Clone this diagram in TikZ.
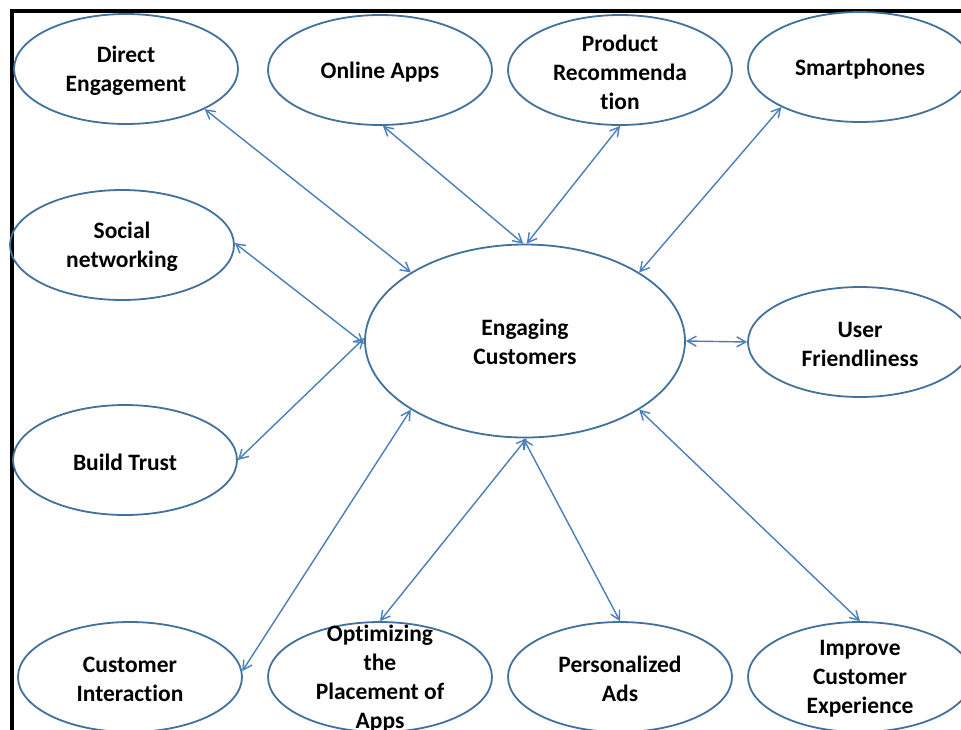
\documentclass[tikz,border=0pt]{standalone}
\usepackage{fontspec}
\setmainfont{Carlito}[Ligatures=CommonOff]
\usetikzlibrary{shapes.geometric,arrows.meta}
\definecolor{ellblue}{RGB}{65,113,156}
\definecolor{arrblue}{RGB}{74,126,187}
\begin{document}
\begin{tikzpicture}[x=1pt,y=-1pt,
  ell/.style={ellipse,draw=ellblue,line width=1.8pt,minimum width=224pt,minimum height=110pt,inner sep=0pt},
  lbl/.style={font=\bfseries\fontsize{23.5}{29}\selectfont,align=center,text=black,inner sep=0pt,yshift=-2pt},
  conn/.style={draw=arrblue,line width=1.4pt,{Straight Barb[length=9pt,width=10pt]}-{Straight Barb[length=9pt,width=10pt]}}]
\useasboundingbox (0,0) rectangle (961,729);
\clip (0,0) rectangle (961,729);
\fill[white] (0,0) rectangle (961,729);
\draw[black,line width=4pt] (12,740) -- (12,11) -- (970,11);
\node[ell,label={[lbl]center:{Direct\\Engagement}}] (de) at (126,69) {};
\node[ell,label={[lbl]center:{Online Apps}}] (oa) at (380,70) {};
\node[ell,label={[lbl]center:{Product\\Recommenda\\tion}}] (pr) at (620,70) {};
\node[ell,label={[lbl]center:{Smartphones}}] (sp) at (860,67) {};
\node[ell,label={[lbl]center:{Social\\networking}}] (sn) at (122,245) {};
\node[ell,minimum width=320pt,minimum height=193pt,label={[lbl,yshift=1pt]center:{Engaging\\Customers}}] (ec) at (525,341) {};
\node[ell,label={[lbl]center:{User\\Friendliness}}] (uf) at (860,342) {};
\node[ell,label={[lbl]center:{Build Trust}}] (bt) at (125,460) {};
\node[ell,label={[lbl]center:{Customer\\Interaction}}] (ci) at (130,677) {};
\node[ell,label={[lbl]center:{Optimizing\\the\\Placement of\\Apps}}] (op) at (380,677) {};
\node[ell,label={[lbl]center:{Personalized\\Ads}}] (pa) at (620,677) {};
\node[ell,label={[lbl]center:{Improve\\Customer\\Experience}}] (ic) at (860,677) {};
\draw[conn] (de.-27) -- (ec.149);
\draw[conn] (oa.-87) -- (ec.91);
\draw[conn] (pr.-90) -- (ec.89);
\draw[conn] (sp.207) -- (ec.31);
\draw[conn] (sn.1) -- (ec.181);
\draw[conn] (bt.0) -- (ec.179);
\draw[conn] (uf.180) -- (ec.0);
\draw[conn] (ci.3) -- (ec.211);
\draw[conn] (op.90) -- (ec.271);
\draw[conn] (pa.90) -- (ec.269);
\draw[conn] (ic.90) -- (ec.-31);
\end{tikzpicture}
\end{document}
